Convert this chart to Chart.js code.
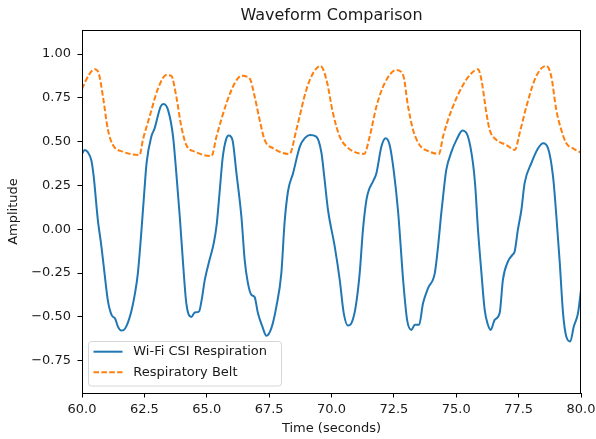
<!DOCTYPE html>
<html><head><meta charset="utf-8">
<script src="https://cdn.jsdelivr.net/npm/chart.js@4.4.0/dist/chart.umd.min.js"></script>
<style>html,body{margin:0;padding:0;background:#fff;}canvas{display:block;}</style>
</head><body>
<canvas id="c" width="596" height="439"></canvas>
<script>
const chartTitle = 'Waveform Comparison';
const xAxisLabel = 'Time (seconds)';
const yAxisLabel = 'Amplitude';
const seriesNames = ['Wi-Fi CSI Respiration', 'Respiratory Belt'];
const xTickValues = [60, 62.5, 65, 67.5, 70, 72.5, 75, 77.5, 80];
const yTickValues = [-0.75, -0.5, -0.25, 0, 0.25, 0.5, 0.75, 1.0];

const csiTime = [60.00,60.11,60.23,60.38,60.47,60.63,60.78,60.91,61.04,61.19,61.33,61.44,61.57,61.67,61.79,61.99,62.13,62.24,62.37,62.49,62.59,62.78,62.91,63.05,63.15,63.27,63.45,63.65,63.78,63.92,64.05,64.18,64.38,64.52,64.69,64.80,64.92,65.12,65.28,65.40,65.52,65.64,65.77,65.88,66.03,66.19,66.39,66.52,66.65,66.79,66.92,67.05,67.23,67.39,67.59,67.79,67.99,68.12,68.26,68.46,68.73,68.93,69.13,69.39,69.60,69.71,69.86,70.13,70.33,70.49,70.66,70.80,70.97,71.13,71.26,71.40,71.50,71.66,71.80,72.00,72.17,72.33,72.49,72.67,72.75,72.87,73.03,73.20,73.34,73.51,73.67,73.87,74.14,74.27,74.40,74.52,74.60,74.81,75.01,75.25,75.47,75.67,75.76,75.87,76.01,76.14,76.27,76.38,76.54,76.74,76.87,77.07,77.25,77.34,77.47,77.61,77.74,78.01,78.28,78.48,78.68,78.88,79.01,79.15,79.28,79.41,79.57,79.71,79.88,80.00];
const csiAmp = [0.43,0.452,0.44,0.39,0.30,0.06,-0.10,-0.26,-0.41,-0.49,-0.51,-0.555,-0.577,-0.575,-0.55,-0.46,-0.36,-0.25,-0.03,0.20,0.38,0.53,0.576,0.652,0.70,0.715,0.68,0.529,0.32,0.07,-0.193,-0.421,-0.501,-0.475,-0.469,-0.40,-0.29,-0.17,-0.08,0.03,0.22,0.41,0.51,0.535,0.51,0.32,0.07,-0.174,-0.307,-0.374,-0.387,-0.478,-0.555,-0.608,-0.564,-0.441,-0.25,0.04,0.22,0.32,0.472,0.52,0.538,0.529,0.434,0.30,0.11,-0.099,-0.288,-0.478,-0.549,-0.535,-0.441,-0.25,-0.003,0.168,0.225,0.272,0.32,0.472,0.519,0.481,0.339,0.10,-0.05,-0.288,-0.517,-0.574,-0.545,-0.545,-0.421,-0.336,-0.25,-0.099,0.092,0.25,0.339,0.443,0.51,0.563,0.529,0.377,0.25,0.0,-0.25,-0.46,-0.545,-0.574,-0.517,-0.478,-0.288,-0.184,-0.146,-0.127,-0.003,0.11,0.263,0.377,0.462,0.491,0.462,0.30,0.08,-0.193,-0.478,-0.612,-0.64,-0.555,-0.478,-0.345];

const beltTime = [60.00,60.27,60.51,60.67,60.84,61.04,61.24,61.64,62.31,62.44,62.71,63.05,63.38,63.58,63.78,63.98,64.18,64.52,65.19,65.39,65.79,66.12,66.39,66.72,66.92,67.12,67.32,67.66,68.32,68.59,68.99,69.26,69.56,69.80,70.06,70.33,70.60,71.31,71.53,71.80,72.13,72.60,72.87,73.07,73.27,73.53,73.93,74.31,74.47,74.81,75.27,75.61,75.87,76.01,76.21,76.34,76.61,77.01,77.35,77.54,77.81,78.14,78.41,78.61,78.81,79.01,79.21,79.41,79.68,80.00];
const beltAmp = [0.80,0.88,0.913,0.89,0.757,0.567,0.481,0.443,0.424,0.51,0.643,0.804,0.88,0.875,0.757,0.586,0.481,0.443,0.418,0.529,0.719,0.833,0.876,0.86,0.757,0.624,0.51,0.462,0.43,0.567,0.795,0.89,0.932,0.852,0.662,0.529,0.472,0.43,0.529,0.70,0.833,0.909,0.88,0.70,0.567,0.481,0.443,0.43,0.529,0.68,0.823,0.89,0.913,0.852,0.662,0.567,0.51,0.481,0.453,0.548,0.70,0.852,0.918,0.932,0.871,0.68,0.567,0.491,0.462,0.437];

const FONT = "'DejaVu Sans', 'Liberation Sans', sans-serif";
const TEXT = '#1a1a1a';

const toPts = (xs, ys) => xs.map((x, i) => ({x: x, y: ys[i]}));

const framePlugin = {
  id: 'frame',
  afterDraw(chart) {
    const {ctx, chartArea: a} = chart;
    ctx.save();
    ctx.strokeStyle = '#000';
    ctx.lineWidth = 1;
    ctx.strokeRect(Math.round(a.left) + 0.5, Math.round(a.top) + 0.5, Math.round(a.right - a.left) - 1, Math.round(a.bottom - a.top));
    ctx.fillStyle = TEXT;
    ctx.font = '16px ' + FONT;
    ctx.textAlign = 'center';
    ctx.textBaseline = 'middle';
    ctx.fillText(chartTitle, (a.left + a.right) / 2, 16);
    const bx = 88.5, by = 341.5, bw = 193, bh = 44.5, r = 3;
    ctx.beginPath();
    ctx.moveTo(bx + r, by);
    ctx.lineTo(bx + bw - r, by); ctx.quadraticCurveTo(bx + bw, by, bx + bw, by + r);
    ctx.lineTo(bx + bw, by + bh - r); ctx.quadraticCurveTo(bx + bw, by + bh, bx + bw - r, by + bh);
    ctx.lineTo(bx + r, by + bh); ctx.quadraticCurveTo(bx, by + bh, bx, by + bh - r);
    ctx.lineTo(bx, by + r); ctx.quadraticCurveTo(bx, by, bx + r, by);
    ctx.closePath();
    ctx.fillStyle = 'rgba(255,255,255,0.8)';
    ctx.fill();
    ctx.strokeStyle = '#d6d6d6';
    ctx.lineWidth = 1;
    ctx.stroke();
    const rows = [351.7, 372.3];
    chart.data.datasets.forEach((ds, i) => {
      const y = rows[i];
      ctx.beginPath();
      ctx.strokeStyle = ds.borderColor;
      ctx.lineWidth = ds.borderWidth;
      ctx.setLineDash(ds.borderDash || []);
      ctx.moveTo(93.5, y); ctx.lineTo(122.5, y);
      ctx.stroke();
      ctx.setLineDash([]);
      ctx.fillStyle = TEXT;
      ctx.font = '13px ' + FONT;
      ctx.textAlign = 'left';
      ctx.textBaseline = 'middle';
      ctx.fillText(ds.label, 133.3, y);
    });
    ctx.restore();
  }
};

new Chart(document.getElementById('c'), {
  type: 'line',
  data: {
    datasets: [
      {label: seriesNames[0], data: toPts(csiTime, csiAmp), borderColor: '#1f77b4', borderWidth: 2, pointRadius: 0, cubicInterpolationMode: 'monotone', fill: false},
      {label: seriesNames[1], data: toPts(beltTime, beltAmp), borderColor: '#ff7f0e', borderWidth: 2, borderDash: [5.5, 2.4], pointRadius: 0, cubicInterpolationMode: 'monotone', fill: false}
    ]
  },
  options: {
    responsive: false,
    animation: false,
    devicePixelRatio: 1,
    layout: {padding: {left: 0, right: 15, top: 30, bottom: 0}},
    plugins: {legend: {display: false}, title: {display: false}, tooltip: {enabled: false}},
    scales: {
      x: {
        type: 'linear', min: 60, max: 80,
        afterFit(s) { s.height = 46; s.paddingLeft = 0; s.paddingRight = 0; },
        afterBuildTicks(s) { s.ticks = xTickValues.map(v => ({value: v})); },
        ticks: {font: {family: FONT, size: 13}, color: TEXT, padding: 4, maxRotation: 0, autoSkip: false,
          callback: v => Number(v).toFixed(1)},
        grid: {display: true, drawOnChartArea: false, drawTicks: true, tickLength: 4.5, color: '#000'},
        border: {display: false},
        title: {display: true, text: xAxisLabel, font: {family: FONT, size: 13}, color: TEXT, padding: {top: 0, bottom: 3}}
      },
      y: {
        type: 'linear', min: -0.934, max: 1.137,
        afterFit(s) { s.width = 82; s.paddingTop = 0; s.paddingBottom = 0; },
        afterBuildTicks(s) { s.ticks = yTickValues.map(v => ({value: v})); },
        ticks: {font: {family: FONT, size: 13}, color: TEXT, padding: 6.5, autoSkip: false,
          callback: v => Number(v).toFixed(2).replace('-', '\u2212')},
        grid: {display: true, drawOnChartArea: false, drawTicks: true, tickLength: 4.5, color: '#000'},
        border: {display: false},
        title: {display: true, text: yAxisLabel, font: {family: FONT, size: 13}, color: TEXT, padding: {top: 5.5, bottom: 0}}
      }
    }
  },
  plugins: [framePlugin]
});
</script>
</body></html>
